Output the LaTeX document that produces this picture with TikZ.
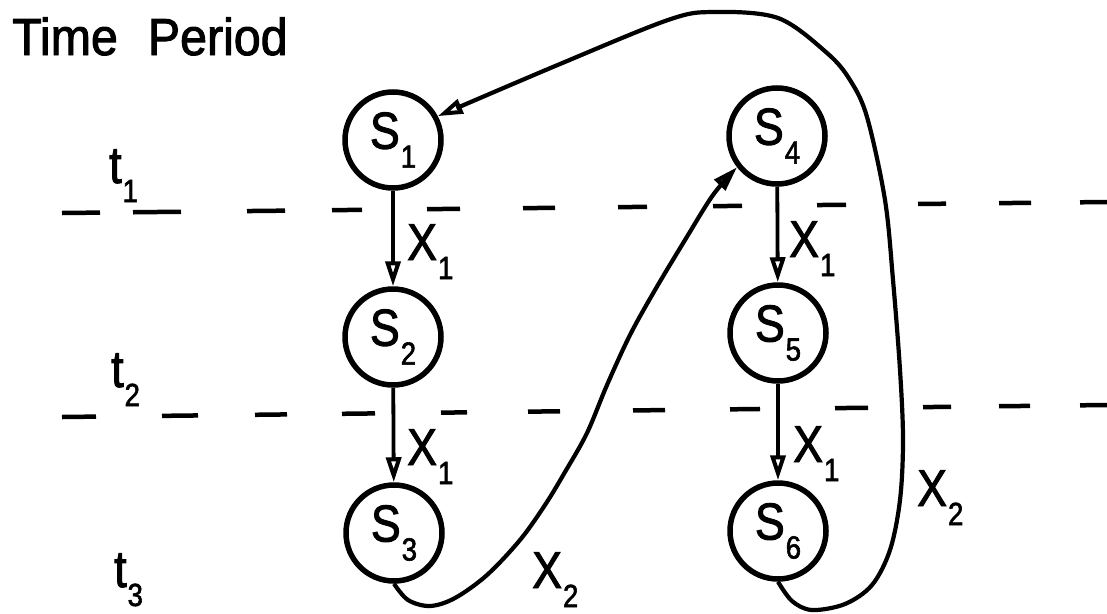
\documentclass[tikz,border=0pt]{standalone}
\usepackage{fontspec}
\setmainfont{Liberation Sans}
\newfontfamily\labfont[FakeStretch=0.86,FakeBold=1.8]{Liberation Sans}
\newfontfamily\titlefont[FakeStretch=0.93,FakeBold=1.8]{Liberation Sans}
\usetikzlibrary{arrows.meta}
\newcommand{\subl}[2]{#1\kern1pt\raisebox{-19pt}{\fontsize{32}{32}\selectfont #2}}
\begin{document}
\begin{tikzpicture}[x=1pt,y=-1pt,
  state/.style={circle, draw, line width=5.5pt, minimum size=96pt, inner sep=0pt,
    font=\labfont\fontsize{52}{52}\selectfont},
  lbl/.style={anchor=base west, inner sep=0pt, font=\labfont\fontsize{52}{52}\selectfont},
  dsh/.style={line width=4.5pt},
  tip/.style={-{Triangle[open, length=25pt, width=15pt, line width=4pt]}},
  arr/.style={line width=3.8pt, tip},
  conn/.style={line width=4.2pt, tip}]
\useasboundingbox (0,0) rectangle (1107,613);

% time period dashed lines
\foreach \a/\b in {62/100,133/181,247/285,332/362,427/460,523/555,618/647,713/742,817/846,918/946,999/1031,1080/1107}{
  \pgfmathsetmacro{\ya}{213-11*(\a-62)/1045}
  \pgfmathsetmacro{\yb}{213-11*(\b-62)/1045}
  \draw[dsh] (\a,\ya) -- (\b,\yb);
}
\foreach \a/\b in {62/96,162/198,255/287,342/375,441/467,528/560,633/665,730/760,835/868,923/951,999/1030,1080/1107}{
  \pgfmathsetmacro{\ya}{417-12*(\a-62)/1045}
  \pgfmathsetmacro{\yb}{417-12*(\b-62)/1045}
  \draw[dsh] (\a,\ya) -- (\b,\yb);
}

% labels on the left
\node[lbl, font=\titlefont\fontsize{52}{52}\selectfont] (title) at (12,55) {Time\hspace{30pt}Period};
\node[lbl] (t1) at (109,183) {\subl{t}{1}};
\node[lbl] (t2) at (111,387) {\subl{t}{2}};
\node[lbl] (t3) at (114,587) {\subl{t}{3}};

% states
\node[state] (S1) at (393,140) {\subl{S}{1}};
\node[state] (S2) at (393,337) {\subl{S}{2}};
\node[state] (S3) at (394,533) {\subl{S}{3}};
\node[state] (S4) at (777,136) {\subl{S}{4}};
\node[state] (S5) at (778,333) {\subl{S}{5}};
\node[state] (S6) at (778,531) {\subl{S}{6}};

% straight transitions
\draw[arr] (S1) -- (S2);
\draw[arr] (S2) -- (S3);
\draw[arr] (S4) -- (S5);
\draw[arr] (S5) -- (S6);

% curved transitions
\draw[conn] plot[smooth, tension=0.55] coordinates {(S3.south) (408,600) (430,606) (455,598) (487,575) (520,540) (545,505) (565,472) (587,433) (607,385) (630,335) (655,290) (685,240) (713,195) (S4.218)};
\draw[conn] plot[smooth, tension=0.55] coordinates {(S6.south) (792,601) (812,610) (845,604) (872,585) (890,550) (900,500) (903,440) (900,370) (893,280) (885,200) (867,117) (850,80) (827,53) (778,18) (713,12) (668,20) (560,64) (S1.28)};

% transition labels
\node[lbl] (x12) at (407,260) {\subl{X}{1}};
\node[lbl] (x23) at (407,465) {\subl{X}{1}};
\node[lbl] (x45) at (789,257) {\subl{X}{1}};
\node[lbl] (x56) at (793,462) {\subl{X}{1}};
\node[lbl] (x34) at (532,588) {\subl{X}{2}};
\node[lbl] (x61) at (917,506) {\subl{X}{2}};
\end{tikzpicture}
\end{document}
